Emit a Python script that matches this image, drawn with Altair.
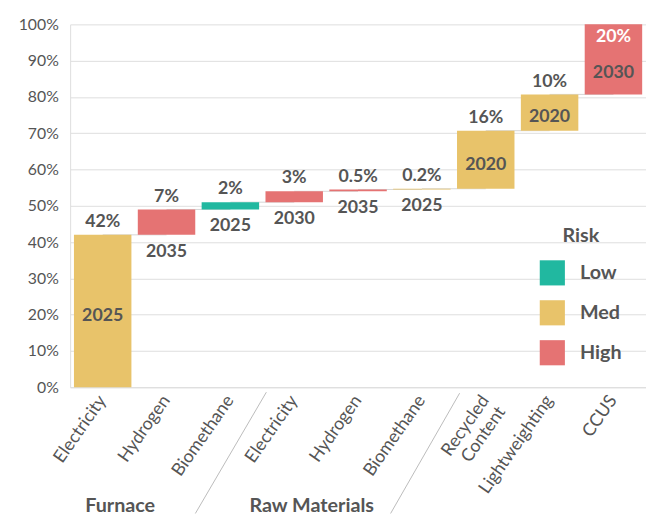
import altair as alt
import pandas as pd

keys = ["Electricity|F", "Hydrogen|F", "Biomethane|F", "Electricity|R", "Hydrogen|R",
        "Biomethane|R", "Recycled~Content", "Lightweighting", "CCUS"]
values = [0.42, 0.07, 0.02, 0.03, 0.005, 0.002, 0.16, 0.10, 0.20]
risk = ["Med", "High", "Low", "High", "High", "Med", "Med", "Med", "High"]
years = ["2025", "2035", "2025", "2030", "2035", "2025", "2020", "2020", "2030"]
pct_labels = ["42%", "7%", "2%", "3%", "0.5%", "0.2%", "16%", "10%", "20%"]
group_names = ["Furnace", "Raw Materials"]
group_anchor = ["Hydrogen|F", "Hydrogen|R"]
risk_levels = ["Low", "Med", "High"]
risk_colors = ["#21B8A0", "#E8C36A", "#E57373"]

starts, ends = [], []
c = 0.0
for v in values:
    starts.append(c)
    c += v
    ends.append(c)

df = pd.DataFrame({"key": keys, "value": values, "risk": risk, "year": years,
                   "pct": pct_labels, "start": starts, "end": ends})
df["end_clip"] = df["end"].clip(upper=1.0)
df["pct_inside"] = df["end"] > 1.0
df["year_inside"] = df["value"] >= 0.1
df["year_mid"] = (df["start"] + df["end_clip"].where(~df["pct_inside"], 0.95)) / 2
df["next_key"] = df["key"].shift(-1)

TEXT = "#555555"
xscale = alt.Scale(domain=keys, paddingInner=0.1, paddingOuter=0.06)
xaxis = alt.Axis(labelAngle=-55, labelAlign="right", labelBaseline="middle",
                 ticks=False, domainColor="#dddddd", labelColor=TEXT,
                 labelFontSize=18, labelPadding=10, labelOffset=0, labelLimit=200,
                 title=None, labelExpr="split(split(datum.label, '|')[0], '~')")
yscale = alt.Scale(domain=[0, 1], clamp=True, nice=False)
yaxis = alt.Axis(format="%", values=[i / 10 for i in range(11)], ticks=False,
                 gridColor="#dddddd", domainColor="#dddddd", labelColor=TEXT,
                 labelFontSize=16, labelPadding=12, title=None, labelOverlap=False)


def X(field="key"):
    return alt.X(f"{field}:N", scale=xscale, axis=xaxis, sort=None)


def Y(field):
    return alt.Y(f"{field}:Q", scale=yscale, axis=yaxis)


base = alt.Chart(df)

connectors = base.transform_filter("datum.next_key != null").mark_rule(
    color="#d5d5d5", strokeWidth=1).encode(
    x=X(), x2="next_key:N", y=Y("end"))

bars = base.mark_bar().encode(
    x=X(),
    y=Y("start"),
    y2="end_clip:Q",
    color=alt.Color("risk:N", scale=alt.Scale(domain=risk_levels, range=risk_colors),
                    legend=alt.Legend(title="Risk", orient="none", legendX=476, legendY=205,
                                      titleAnchor="middle", symbolType="square",
                                      symbolSize=650, symbolStrokeWidth=0,
                                      labelFontSize=20, titleFontSize=20,
                                      labelColor=TEXT, titleColor=TEXT,
                                      titleFontWeight="bold", labelFontWeight="bold",
                                      rowPadding=14.5, titlePadding=14, labelOffset=15)))

pct_out = base.transform_filter("!datum.pct_inside").mark_text(
    baseline="bottom", dy=-4, fontSize=18, fontWeight="bold", color=TEXT).encode(
    x=X(), y=Y("end"), text="pct:N")

pct_in = base.transform_filter("datum.pct_inside").mark_text(
    baseline="top", dy=4, fontSize=18, fontWeight="bold", color="white").encode(
    x=X(), y=Y("end_clip"), text="pct:N")

year_in = base.transform_filter("datum.year_inside").mark_text(
    baseline="middle", dy=5, fontSize=18, fontWeight="bold", color=TEXT).encode(
    x=X(), y=Y("year_mid"), text="year:N")

year_below = base.transform_filter("!datum.year_inside").mark_text(
    baseline="top", dy=8, fontSize=18, fontWeight="bold", color=TEXT).encode(
    x=X(), y=Y("start"), text="year:N")

gdf = pd.DataFrame({"name": group_names, "anchor": group_anchor})
groups = alt.Chart(gdf).mark_text(
    baseline="middle", dx=-47, fontSize=20, fontWeight="bold", color=TEXT).encode(
    x=X("anchor"), y=alt.value(488), text="name:N")

one = alt.Chart(pd.DataFrame({"a": [0]}))
sep1 = one.mark_rule(color="#bbbbbb", strokeWidth=1).encode(
    x=alt.value(199), x2=alt.value(127), y=alt.value(373), y2=alt.value(496))
sep2 = one.mark_rule(color="#bbbbbb", strokeWidth=1).encode(
    x=alt.value(395), x2=alt.value(325), y=alt.value(374), y2=alt.value(496))

chart = alt.layer(connectors, bars, pct_out, pct_in, year_in, year_below, groups, sep1, sep2).properties(
    width=584, height=368,
    padding={"left": 10, "top": 5, "right": 0, "bottom": 0},
).configure(font="Lato").configure_view(strokeWidth=0)

chart.save("out.html", embed_options={"renderer": "svg", "actions": False})
